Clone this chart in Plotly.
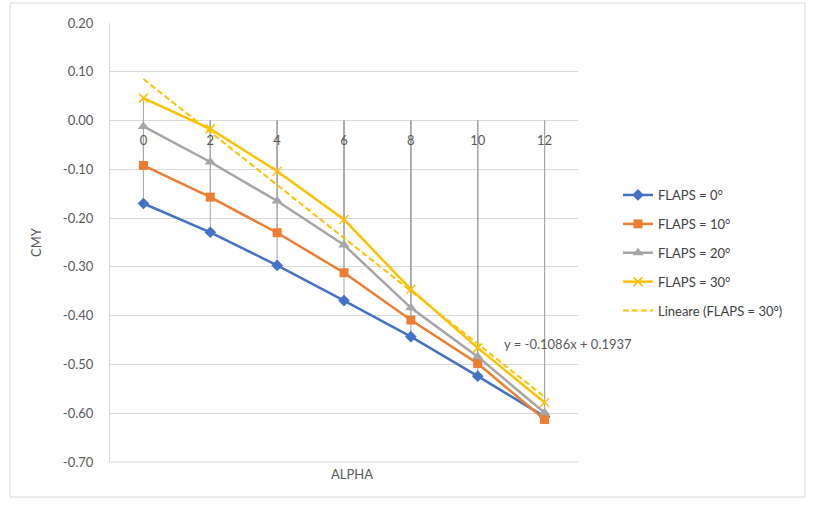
import plotly.graph_objects as go

# ---- data ----
alpha = [0, 2, 4, 6, 8, 10, 12]
flaps0 = [-0.170, -0.229, -0.297, -0.369, -0.443, -0.524, -0.607]
flaps10 = [-0.092, -0.157, -0.230, -0.312, -0.409, -0.498, -0.613]
flaps20 = [-0.012, -0.085, -0.165, -0.255, -0.384, -0.484, -0.599]
flaps30 = [0.046, -0.017, -0.104, -0.203, -0.346, -0.466, -0.578]
series_names = ["FLAPS = 0°", "FLAPS = 10°", "FLAPS = 20°", "FLAPS = 30°"]
trend_slope = -0.1086
trend_intercept = 0.1937
trend_name = "Lineare (FLAPS = 30°)"
trend_label = "y = -0.1086x + 0.1937"
y_ticks = [0.2, 0.1, 0.0, -0.1, -0.2, -0.3, -0.4, -0.5, -0.6, -0.7]

# ---- styling ----
FONT = "Lato"
TXT = "#595959"
colors = ["#4472C4", "#ED7D31", "#A5A5A5", "#FFC000"]
symbols = ["diamond", "square", "triangle-up", "x-thin"]
sizes = [9, 9, 10, 9]

W, H = 815, 506
L, R, T, B = 110, 237, 23, 44
pw, ph = W - L - R, H - T - B

fig = go.Figure()

# drop lines from each point to the category axis (y = 0)
dx, dy = [], []
for s in [flaps0, flaps10, flaps20, flaps30]:
    for a, v in zip(alpha, s):
        dx += [a, a, None]
        dy += [0, v, None]
fig.add_trace(go.Scatter(x=dx, y=dy, mode="lines",
                         line=dict(color="#A6A6A6", width=1),
                         showlegend=False, hoverinfo="skip"))

all_series = [flaps0, flaps10, flaps20, flaps30]
for i, (name, s) in enumerate(zip(series_names, all_series)):
    mk = dict(symbol=symbols[i], size=sizes[i], color=colors[i])
    if symbols[i] == "x-thin":
        mk["line"] = dict(color=colors[i], width=1.5)
    fig.add_trace(go.Scatter(x=alpha, y=s, name=name, mode="lines+markers",
                             line=dict(color=colors[i], width=2.5),
                             marker=mk, legendgroup=f"g{i}"))

# linear trendline (x = category index 1..n, as in Excel)
trend_y = [trend_slope * (k + 1) + trend_intercept for k in range(len(alpha))]
fig.add_trace(go.Scatter(x=alpha, y=trend_y, name=trend_name, mode="lines",
                         line=dict(color=colors[3], width=2, dash="6px,3px"),
                         legendgroup="g4"))

fig.add_annotation(x=alpha[-2], y=trend_y[-2], text=trend_label,
                   showarrow=False, xanchor="left", yanchor="middle",
                   xshift=24,
                   font=dict(family=FONT, size=13, color=TXT))

# axis titles
fig.add_annotation(x=0.5, y=0.0, xref="paper", yref="paper", yshift=-2,
                   text="ALPHA", showarrow=False, yanchor="top", xshift=8,
                   font=dict(family=FONT, size=13, color=TXT))

# outer chart border
def px2paper_x(px):
    return (px - L) / pw

def px2paper_y(py):
    return (H - B - py) / ph

fig.add_shape(type="rect", xref="paper", yref="paper",
              x0=px2paper_x(10), x1=px2paper_x(805),
              y0=px2paper_y(497), y1=px2paper_y(3),
              line=dict(color="#D9D9D9", width=1), fillcolor="rgba(0,0,0,0)",
              layer="below")
# bottom border of plot area (gridline at the axis minimum)
fig.add_shape(type="line", xref="paper", yref="paper", x0=0, x1=1, y0=0, y1=0,
              line=dict(color="#D9D9D9", width=1), layer="below")

ymin, ymax = -0.7, 0.2
fig.update_layout(
    width=W, height=H,
    margin=dict(l=L, r=R, t=T, b=B),
    paper_bgcolor="white", plot_bgcolor="white",
    font=dict(family=FONT, size=13, color=TXT),
    showlegend=True,
    legend=dict(x=px2paper_x(618), y=px2paper_y(180), xanchor="left", yanchor="top",
                font=dict(family=FONT, size=13, color="#404040"),
                tracegroupgap=9, traceorder="grouped",
                bgcolor="rgba(0,0,0,0)"),
    xaxis=dict(range=[-1, 13], tickvals=alpha, ticktext=[str(a) for a in alpha],
               showgrid=False, zeroline=False, showline=False,
               anchor="free", position=(0 - ymin) / (ymax - ymin),
               ticks="", ticklabelstandoff=10,
               tickfont=dict(family=FONT, size=13, color=TXT)),
    yaxis=dict(range=[ymin, ymax], tickvals=y_ticks,
               ticktext=[f"{v:.2f}" for v in y_ticks],
               showgrid=True, gridcolor="#D9D9D9", gridwidth=1,
               zeroline=False, showline=True, linecolor="#D9D9D9",
               ticks="", ticklabelstandoff=13,
               title=dict(text="CMY", standoff=18,
                          font=dict(family=FONT, size=13, color=TXT)),
               tickfont=dict(family=FONT, size=13, color=TXT)),
)

fig.write_html("out.html")
